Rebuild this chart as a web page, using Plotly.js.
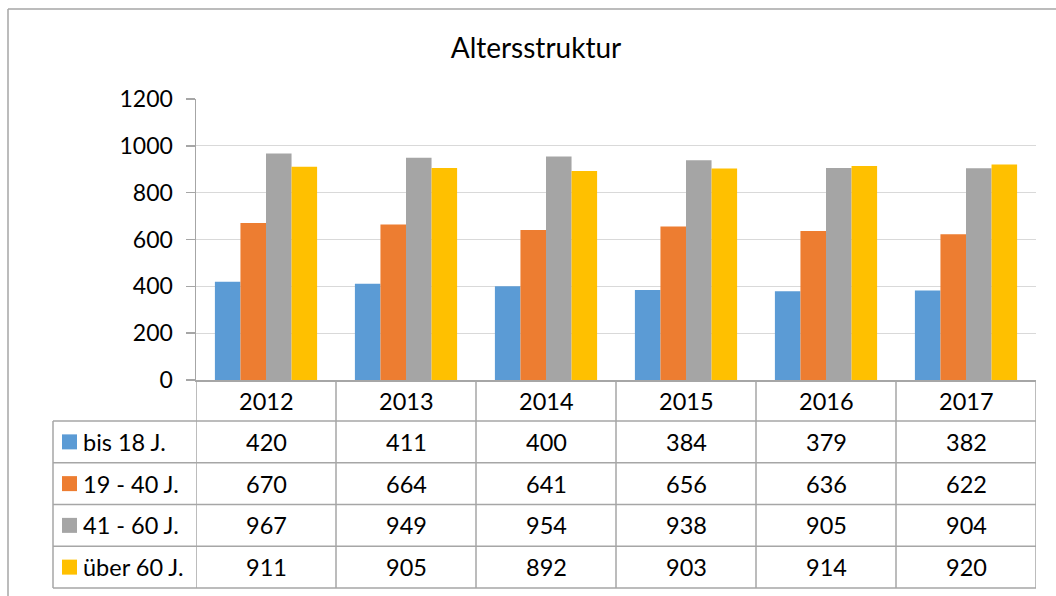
<!DOCTYPE html>
<html><head><meta charset="utf-8">
<script src="https://cdn.plot.ly/plotly-3.0.1.min.js"></script>
<style>html,body{margin:0;padding:0;background:#fff}#chart{width:1056px;height:596px}</style>
</head><body><div id="chart"></div>
<script>
const years = ['2012','2013','2014','2015','2016','2017'];
const seriesNames = ['bis 18 J.','19 - 40 J.','41 - 60 J.','über 60 J.'];
const bis18 = [420,411,400,384,379,382];
const j19_40 = [670,664,641,656,636,622];
const j41_60 = [967,949,954,938,905,904];
const ueber60 = [911,905,892,903,914,920];
const colors = ['#5B9BD5','#ED7D31','#A5A5A5','#FFC000'];
const yTicks = [0,200,400,600,800,1000,1200];

const W = 1056, H = 596;
const px = v => v / W;
const py = v => 1 - v / H;
const FONT = 'Lato, "Open Sans", sans-serif';
const LINE = '#A6A6A6';
const TSIZE = 23.5;

const allSeries = [bis18, j19_40, j41_60, ueber60];
const traces = allSeries.map((vals, i) => ({
  type: 'bar', x: years, y: vals, name: seriesNames[i],
  marker: {color: colors[i], line: {width: 0}}, hoverinfo: 'x+y+name'
}));

const shapes = [];
const annotations = [];
// outer frame
shapes.push({type:'line', xref:'paper', yref:'paper', x0:px(8), x1:1, y0:py(9), y1:py(9), line:{color:LINE, width:1.5}});
shapes.push({type:'line', xref:'paper', yref:'paper', x0:px(8), x1:px(8), y0:py(9), y1:0, line:{color:LINE, width:1.5}});

// table rows (y pixel boundaries)
const rowTop = 380, headerBottom = 421, rowH = 41.75;
const rowBounds = [headerBottom];
for (let r = 1; r <= seriesNames.length; r++) rowBounds.push(headerBottom + r * rowH);
const tableBottom = rowBounds[rowBounds.length - 1];
// vertical lines between categories
for (let c = 0; c <= years.length; c++) {
  shapes.push({type:'line', xref:'x', yref:'paper', x0:c-0.5, x1:c-0.5, y0:py(rowTop), y1:py(tableBottom), line:{color:LINE, width:1.5}});
}
// left border of legend column
shapes.push({type:'line', xref:'paper', yref:'paper', x0:px(53), x1:px(53), y0:py(headerBottom), y1:py(tableBottom), line:{color:LINE, width:1.5}});
// horizontal lines
rowBounds.forEach(yb => {
  shapes.push({type:'line', xref:'paper', yref:'paper', x0:px(53), x1:px(1036), y0:py(yb), y1:py(yb), line:{color:LINE, width:1.5}});
});
// header year labels
years.forEach((yr, j) => annotations.push({xref:'x', yref:'paper', x:j, y:py((rowTop+headerBottom)/2), text:yr, showarrow:false, xanchor:'center', yanchor:'middle', font:{family:FONT, size:TSIZE, color:'#000'}}));
// rows
allSeries.forEach((vals, i) => {
  const yc = (rowBounds[i] + rowBounds[i+1]) / 2;
  shapes.push({type:'rect', xref:'paper', yref:'paper', x0:px(62), x1:px(77), y0:py(yc-7.5), y1:py(yc+7.5), fillcolor:colors[i], line:{width:0}});
  annotations.push({xref:'paper', yref:'paper', x:px(81), y:py(yc), text:seriesNames[i], showarrow:false, xanchor:'left', yanchor:'middle', font:{family:FONT, size:TSIZE, color:'#000'}});
  vals.forEach((v, j) => annotations.push({xref:'x', yref:'paper', x:j, y:py(yc), text:String(v), showarrow:false, xanchor:'center', yanchor:'middle', font:{family:FONT, size:TSIZE, color:'#000'}}));
});

const layout = {
  width: W, height: H,
  margin: {l:0, r:0, t:0, b:0, pad:0},
  paper_bgcolor: '#fff', plot_bgcolor: '#fff',
  showlegend: false,
  barmode: 'group', bargap: 0.27, bargroupgap: 0,
  title: {text:'Altersstruktur', x: px(536), xref:'paper', xanchor:'center', y: py(48), yref:'paper', yanchor:'middle', font:{family:FONT, size:28, color:'#000'}},
  xaxis: {
    type:'category', domain:[px(196), px(1036)], range:[-0.5, 5.5],
    showticklabels:false, ticks:'', showgrid:false, zeroline:false,
    showline:true, linecolor:LINE, linewidth:1.5, fixedrange:true
  },
  yaxis: {
    domain:[py(380), py(99)], range:[0,1200], tickvals:yTicks, ticktext:yTicks.map(String),
    ticks:'outside', ticklen:9, tickcolor:LINE, tickwidth:1.5, ticklabelstandoff:8,
    showline:true, linecolor:LINE, linewidth:1.5,
    showgrid:true, gridcolor:'#D9D9D9', gridwidth:1.2, zeroline:false,
    tickfont:{family:FONT, size:23, color:'#000'}, fixedrange:true
  },
  shapes, annotations
};
Plotly.newPlot('chart', traces, layout, {displayModeBar:false, staticPlot:true});
</script></body></html>
